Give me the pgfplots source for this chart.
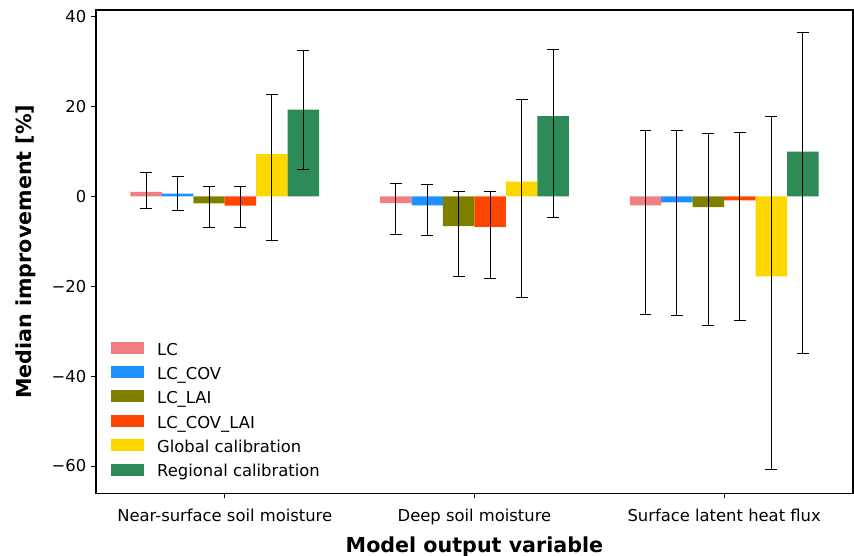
\documentclass[border=0pt]{standalone}
\usepackage{fontspec}
\setmainfont{DejaVu Sans}
\usepackage{pgfplots}
\pgfplotsset{compat=1.18}
\usepackage{pgfplotstable}

\definecolor{cLC}{HTML}{F08080}
\definecolor{cCOV}{HTML}{1E90FF}
\definecolor{cLAI}{HTML}{808000}
\definecolor{cCOVLAI}{HTML}{FF4500}
\definecolor{cGlob}{HTML}{FFD700}
\definecolor{cReg}{HTML}{2E8B57}

% x  median  err+  err-
\pgfplotstableread{
x y ep em
0 1.0 4.3 3.7
1 -1.5 4.4 6.9
2 -2.0 16.6 24.3
}\lc
\pgfplotstableread{
x y ep em
0 0.6 3.9 3.8
1 -2.0 4.7 6.7
2 -1.3 15.9 25.1
}\lccov
\pgfplotstableread{
x y ep em
0 -1.55 3.75 5.35
1 -6.6 7.7 11.3
2 -2.4 16.4 26.3
}\lclai
\pgfplotstableread{
x y ep em
0 -2.05 4.25 4.85
1 -6.8 7.8 11.4
2 -0.9 15.1 26.8
}\lccovlai
\pgfplotstableread{
x y ep em
0 9.5 13.2 19.3
1 3.3 18.3 25.7
2 -17.8 35.7 43.0
}\glob
\pgfplotstableread{
x y ep em
0 19.3 13.2 13.4
1 17.9 14.8 22.6
2 10.0 26.6 45.0
}\reg

\begin{document}
\begin{tikzpicture}
\begin{axis}[
    name=ax,
    scale only axis,
    width=568.5pt, height=363pt,
    xmin=-0.516, xmax=2.516,
    ymin=-66.1, ymax=41.5,
    ybar, bar width=0.126,
    axis line style={line width=1pt},
    tick align=outside, tick pos=left,
    major tick length=3.75pt,
    every tick/.style={black, line width=0.75pt},
    xtick={0,1,2},
    xticklabels={Near-surface soil moisture, Deep soil moisture, Surface latent heat flux},
    ytick={-60,-40,-20,0,20,40},
    yticklabels={−60,−40,−20,0,20,40},
    ticklabel style={font=\fontsize{12.3}{14}\selectfont},
    xticklabel style={yshift=-4.5pt},
    xlabel={\textbf{Model output variable}},
    ylabel={\textbf{Median improvement [\%]}},
    label style={font=\fontsize{15.5}{18}\selectfont},
    x label style={at={(axis description cs:0.5,-0.122)}, anchor=base},
    y label style={at={(axis description cs:-0.0844,0.5)}, anchor=base, rotate=0},
    legend cell align=left,
    legend image code/.code={\path[#1,draw=none] (0pt,-2.25pt) rectangle (24.75pt,6.75pt);},
    legend style={at={(axis description cs:0.0199,0.026)}, anchor=south west,
        draw=none, fill=none, inner sep=0pt, row sep=5.55pt, column sep=9.75pt,
        font=\fontsize{12.3}{14}\selectfont,
        nodes={inner sep=0pt, text height=9.3pt, text depth=2.7pt}},
    error bars/y dir=both, error bars/y explicit,
    error bars/error bar style={black, line width=0.75pt},
    error bars/error mark options={rotate=90, mark size=4.5pt, black, line width=0.75pt},
]
\addplot[fill=cLC, draw=none, bar shift=-0.315] table[x=x, y=y, y error plus=ep, y error minus=em] {\lc};
\addlegendentry{LC}
\addplot[fill=cCOV, draw=none, bar shift=-0.189] table[x=x, y=y, y error plus=ep, y error minus=em] {\lccov};
\addlegendentry{LC\_COV}
\addplot[fill=cLAI, draw=none, bar shift=-0.063] table[x=x, y=y, y error plus=ep, y error minus=em] {\lclai};
\addlegendentry{LC\_LAI}
\addplot[fill=cCOVLAI, draw=none, bar shift=0.063] table[x=x, y=y, y error plus=ep, y error minus=em] {\lccovlai};
\addlegendentry{LC\_COV\_LAI}
\addplot[fill=cGlob, draw=none, bar shift=0.189] table[x=x, y=y, y error plus=ep, y error minus=em] {\glob};
\addlegendentry{Global calibration}
\addplot[fill=cReg, draw=none, bar shift=0.315] table[x=x, y=y, y error plus=ep, y error minus=em] {\reg};
\addlegendentry{Regional calibration}
\end{axis}
\pgfresetboundingbox
\path ([shift={(-72pt,-46.5pt)}]ax.south west) rectangle ([shift={(0.75pt,7.5pt)}]ax.north east);
\end{tikzpicture}
\end{document}
